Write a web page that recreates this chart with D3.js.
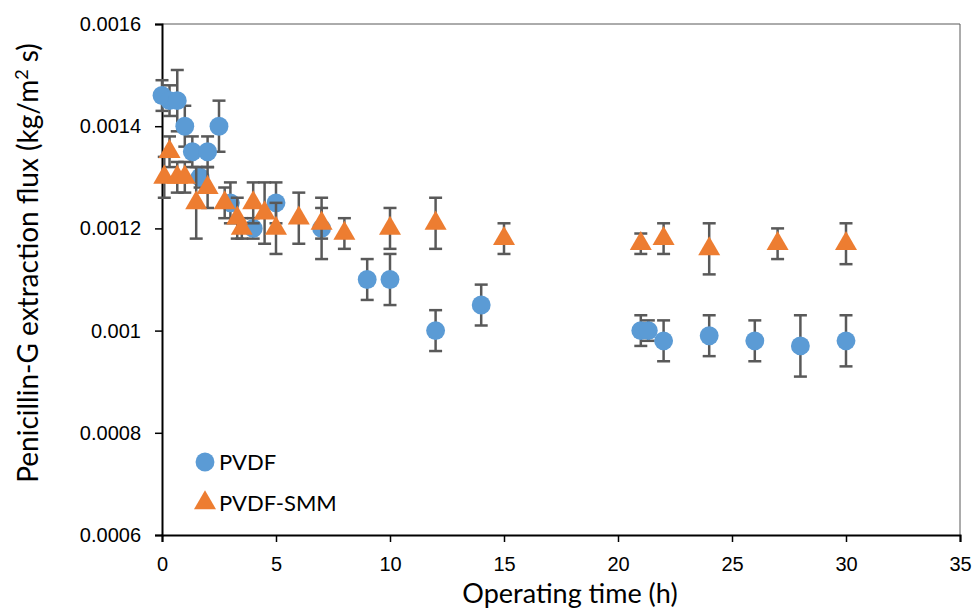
<!DOCTYPE html>
<html>
<head>
<meta charset="utf-8">
<script src="https://cdn.jsdelivr.net/npm/d3@7"></script>
<style>
  body { margin: 0; background: #fff; }
  svg { font-family: Lato, "Open Sans", sans-serif; }
</style>
</head>
<body>
<svg id="chart"></svg>
<script>
// data
const pvdfTime = [0, 0.33, 0.67, 1, 1.33, 1.67, 2, 2.5, 3, 4, 5, 7, 9, 10, 12, 14, 21, 21.33, 22, 24, 26, 28, 30];
const pvdfFlux = [0.00146, 0.00145, 0.00145, 0.0014, 0.00135, 0.0013, 0.00135, 0.0014, 0.00125, 0.0012, 0.00125, 0.0012,
  0.0011, 0.0011, 0.001, 0.00105, 0.001, 0.001, 0.00098, 0.00099, 0.00098, 0.00097, 0.00098];
const pvdfErr = [0.00003, 0.00003, 0.00006, 0.00004, 0.00003, 0.00002, 0.00003, 0.00005, 0.00004, 0.00002, 0.00004, 0.00006,
  0.00004, 0.00005, 0.00004, 0.00004, 0.00003, 0.00002, 0.00004, 0.00004, 0.00004, 0.00006, 0.00005];

const smmTime = [0.1, 0.33, 0.67, 1, 1.5, 2, 2.75, 3.3, 3.5, 4, 4.5, 5, 6, 7, 8, 10, 12, 15, 21, 22, 24, 27, 30];
const smmFlux = [0.0013, 0.00135, 0.0013, 0.0013, 0.00125, 0.00128, 0.00125, 0.00122, 0.0012, 0.00125, 0.00123, 0.0012,
  0.00122, 0.00121, 0.00119, 0.0012, 0.00121, 0.00118, 0.00117, 0.00118, 0.00116, 0.00117, 0.00117];
const smmErr = [0.00004, 0.00003, 0.00003, 0.00003, 0.00007, 0.00004, 0.00003, 0.00004, 0.00002, 0.00004, 0.00006, 0.00005,
  0.00005, 0.00003, 0.00003, 0.00004, 0.00005, 0.00003, 0.00002, 0.00003, 0.00005, 0.00003, 0.00004];

const xTicks = [0, 5, 10, 15, 20, 25, 30, 35];
const yTicks = [0.0006, 0.0008, 0.001, 0.0012, 0.0014, 0.0016];

const width = 973;
const height = 611;
const padLeft = 162, padRight = 960, padTop = 24, padBottom = 535;

const svg = d3.select("#chart").attr("width", width).attr("height", height);

const xScale = d3.scaleLinear().domain([0, 35]).range([padLeft, padRight]);
const yScale = d3.scaleLinear().domain([0.0006, 0.0016]).range([padBottom, padTop]);

// plot border (top / right)
svg.append("path")
  .attr("d", `M${padLeft},${padTop}H${padRight}V${padBottom}`)
  .attr("fill", "none")
  .attr("stroke", "#595959")
  .attr("stroke-width", 1);

const xAxis = d3.axisBottom(xScale).tickValues(xTicks).tickSize(7).tickFormat(d3.format("d"));
const gx = svg.append("g").attr("transform", "translate(0," + padBottom + ")").call(xAxis);
gx.select(".domain").attr("stroke", "#000").attr("stroke-width", 2);
gx.selectAll(".tick line").attr("stroke", "#000").attr("stroke-width", 1.5);
gx.selectAll(".tick text").attr("font-size", 20).attr("fill", "#000").attr("y", 22);

const yAxis = d3.axisLeft(yScale).tickValues(yTicks).tickSize(7).tickFormat((d) => +d.toFixed(4));
const gy = svg.append("g").attr("transform", "translate(" + padLeft + ",0)").call(yAxis);
gy.select(".domain").attr("stroke", "#000").attr("stroke-width", 2);
gy.selectAll(".tick line").attr("stroke", "#000").attr("stroke-width", 1.5);
gy.selectAll(".tick text").attr("font-size", 20).attr("fill", "#000").attr("x", -21);

// axis titles
svg.append("text")
  .attr("x", 570)
  .attr("y", 603)
  .attr("text-anchor", "middle")
  .attr("font-size", 27)
  .text("Operating time (h)");

const yTitle = svg.append("text")
  .attr("transform", "translate(38," + 263 + ") rotate(-90)")
  .attr("text-anchor", "middle")
  .attr("font-size", 28)
  .text("Penicillin-G extraction flux (kg/m");
yTitle.append("tspan").attr("font-size", 18).attr("dy", -10).text("2");
yTitle.append("tspan").attr("dy", 10).text(" s)");

const drawSeries = (times, flux, err, color, symbol, size) => {
  const data = times.map((t, i) => ({ t: t, v: flux[i], e: err[i] }));
  const g = svg.append("g");
  const bars = g.selectAll(".err").data(data).enter().append("g").attr("stroke", "#595959").attr("stroke-width", 2.5);
  bars.append("line")
    .attr("x1", (d) => xScale(d.t)).attr("x2", (d) => xScale(d.t))
    .attr("y1", (d) => yScale(d.v + d.e)).attr("y2", (d) => yScale(d.v - d.e));
  [1, -1].forEach((s) => {
    bars.append("line")
      .attr("x1", (d) => xScale(d.t) - 6.5).attr("x2", (d) => xScale(d.t) + 6.5)
      .attr("y1", (d) => yScale(d.v + s * d.e)).attr("y2", (d) => yScale(d.v + s * d.e));
  });
  g.selectAll(".pt").data(data).enter().append("path")
    .attr("d", d3.symbol().type(symbol).size(size))
    .attr("transform", (d) => "translate(" + xScale(d.t) + "," + yScale(d.v) + ")")
    .attr("fill", color);
};

drawSeries(pvdfTime, pvdfFlux, pvdfErr, "#5B9BD5", d3.symbolCircle, 280);
drawSeries(smmTime, smmFlux, smmErr, "#ED7D31", d3.symbolTriangle, 210);

// legend
const legend = [
  { name: "PVDF", color: "#5B9BD5", symbol: d3.symbolCircle, size: 280, y: 462 },
  { name: "PVDF-SMM", color: "#ED7D31", symbol: d3.symbolTriangle, size: 210, y: 503 },
];
legend.forEach((l) => {
  svg.append("path")
    .attr("d", d3.symbol().type(l.symbol).size(l.size))
    .attr("transform", "translate(205," + l.y + ")")
    .attr("fill", l.color);
  svg.append("text")
    .attr("x", 219).attr("y", l.y).attr("dy", "0.36em")
    .attr("font-size", 22)
    .text(l.name);
});
</script>
</body>
</html>
